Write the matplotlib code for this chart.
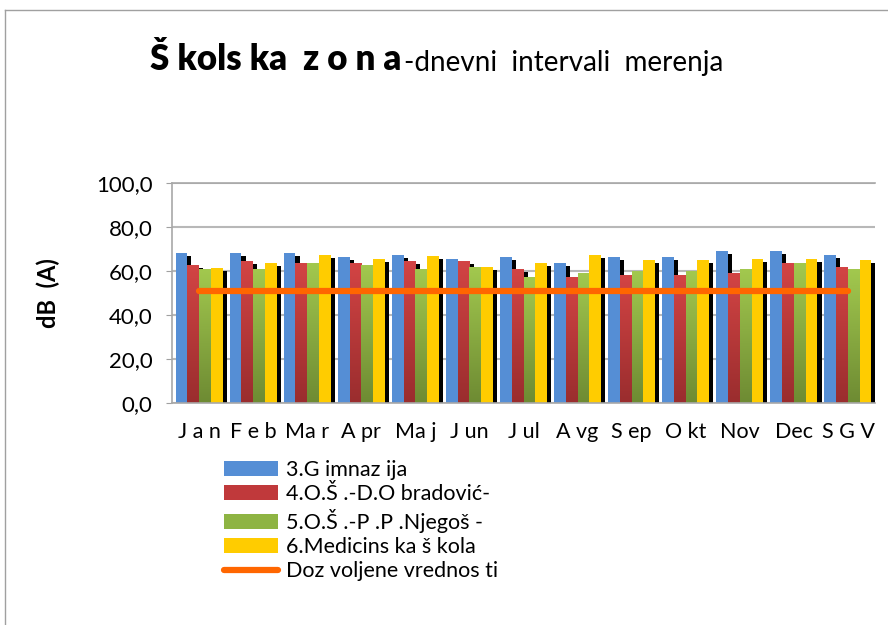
import numpy as np
import matplotlib
matplotlib.use("Agg")
import matplotlib.pyplot as plt
import matplotlib.patheffects as pe
from matplotlib.colors import LinearSegmentedColormap
from matplotlib.lines import Line2D
from matplotlib.patches import Patch

months = ["Jan", "Feb", "Mar", "Apr", "Maj", "Jun", "Jul", "Avg", "Sep", "Okt", "Nov", "Dec", "SGV"]
month_labels = ["J a n", "F e b", "Ma r", "A pr", "Ma j", "J un", "J ul", "A vg", "S ep", "O kt", "Nov", "Dec", "S G V"]

gimnazija = [68.0, 68.0, 68.0, 66.2, 67.1, 65.3, 66.2, 63.5, 66.2, 66.2, 69.0, 69.0, 67.1]
obradovic = [62.6, 64.4, 63.5, 63.5, 64.4, 64.4, 60.7, 57.1, 58.0, 58.0, 59.0, 63.5, 61.7]
njegos = [60.7, 60.7, 63.5, 62.6, 60.7, 61.7, 57.1, 59.0, 59.9, 59.9, 60.7, 63.5, 60.7]
medicinska = [61.2, 63.5, 67.1, 65.3, 66.7, 61.7, 63.5, 67.1, 64.9, 64.9, 65.3, 65.3, 64.9]
dozvoljene = [51.0] * 13

series_names = ["3.G imnaz ija", "4.O.Š .-D.O bradović-", "5.O.Š .-P .P .Njegoš -",
                "6.Medicins ka š kola"]
limit_name = "Doz voljene vrednos ti"

FONT = ["Lato", "DejaVu Sans"]
plt.rcParams["font.family"] = FONT

W, H = 888, 625
fig = plt.figure(figsize=(W / 100, H / 100), dpi=100)
ax = fig.add_axes([172 / W, 1 - 402.7 / H, (875 - 172) / W, (402.7 - 182.7) / H])

x = np.arange(len(months))
w = 1 / 4.6
shadow = [pe.SimplePatchShadow(offset=(3, -2.2), shadow_rgbFace="black", alpha=1.0), pe.Normal()]

specs = [
    (gimnazija, "#558ED5", None),
    (obradovic, "#C0393B", ("#9A2D2E", "#D24444")),
    (njegos, "#8EB443", ("#6E8B33", "#A2C84E")),
    (medicinska, "#FFCC00", None),
]

for i, (vals, col, grad) in enumerate(specs):
    xs = x + (i - 1.5) * w
    z = 2 + i * 0.1
    ax.bar(xs, vals, width=w, color=col, zorder=z, path_effects=shadow)
    if grad:
        cmap = LinearSegmentedColormap.from_list("g%d" % i, list(grad))
        g = np.linspace(0, 1, 64).reshape(-1, 1)
        for xi, v in zip(xs, vals):
            ax.imshow(g, extent=[xi - w / 2, xi + w / 2, 0, v], origin="lower",
                      cmap=cmap, aspect="auto", zorder=z + 0.05, interpolation="bilinear")

ax.plot(x, dozvoljene, color="#FF6600", lw=4.5, solid_capstyle="round", zorder=5)

ax.set_xlim(-0.5, len(months) - 0.5)
ax.set_ylim(0, 100)
ax.set_yticks(np.arange(0, 101, 20))
ax.set_yticklabels(["%d,0" % v for v in range(0, 101, 20)], fontsize=16)
ax.set_xticks(x)
ax.set_xticklabels(month_labels, fontsize=15.5)
ax.tick_params(axis="x", length=0, pad=14)
ax.tick_params(axis="y", length=4, color="#A0A0A0", pad=10)
ax.grid(True, axis="y", color="#B8B8B8", lw=1.5)
ax.set_axisbelow(True)
ax.spines["right"].set_visible(False)
for s in ["left", "bottom", "top"]:
    ax.spines[s].set_color("#A8A8A8")
    ax.spines[s].set_linewidth(1.2)
ax.set_ylabel("dB  (A)", fontsize=17, fontweight="bold", labelpad=26)

# title: bold part followed by regular part
t1 = fig.text(150 / W, 1 - 70 / H, "Š kols ka  z o n a", fontsize=25, fontweight="heavy",
              ha="left", va="baseline")
fig.canvas.draw()
ax.annotate("-dnevni  intervali  merenja", xy=(1, 0), xycoords=t1, xytext=(2, 0),
            textcoords="offset points", fontsize=20, ha="left", va="bottom")

# chart border
fig.add_artist(Line2D([5 / W, 5 / W], [0, 1 - 10 / H], color="#A0A0A0", lw=1))
fig.add_artist(Line2D([5 / W, 1], [1 - 10 / H, 1 - 10 / H], color="#A0A0A0", lw=1))

handles = [Patch(facecolor=c) for _, c, _ in specs]
handles.append(Line2D([0], [0], color="#FF6600", lw=4.5, solid_capstyle="round"))
fig.legend(handles, series_names + [limit_name], loc="upper left",
           bbox_to_anchor=(224 / W, 1 - 460 / H), frameon=False, fontsize=15.5,
           handlelength=2.5, handleheight=0.7, labelspacing=0.2, handletextpad=0.4,
           borderpad=0, borderaxespad=0)

fig.savefig("out.png", dpi=100)
